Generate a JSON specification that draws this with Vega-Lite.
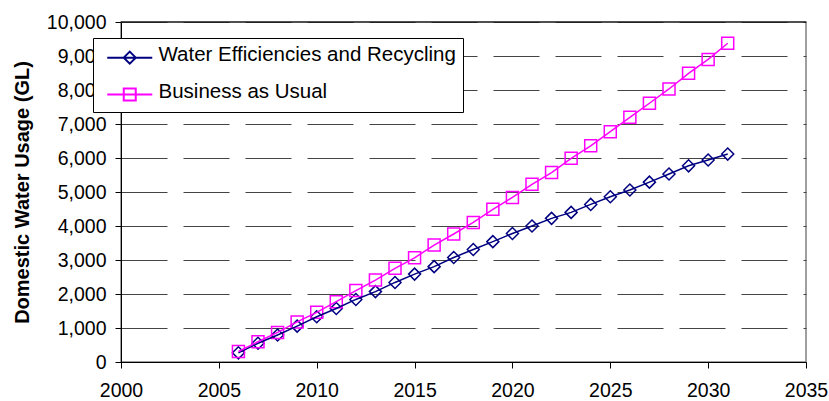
{
  "$schema": "https://vega.github.io/schema/vega-lite/v6.json",
  "width": 685,
  "height": 340,
  "autosize": {"type": "none"},
  "padding": {"left": 121, "top": 22, "right": 23, "bottom": 39},
  "background": "white",
  "config": {
    "view": {"stroke": "#808080", "strokeWidth": 1.5},
    "font": "Liberation Sans"
  },
  "data": {
    "values": [
      {"year": 2006, "series": "Water Efficiencies and Recycling", "usage": 270},
      {"year": 2007, "series": "Water Efficiencies and Recycling", "usage": 550},
      {"year": 2008, "series": "Water Efficiencies and Recycling", "usage": 795},
      {"year": 2009, "series": "Water Efficiencies and Recycling", "usage": 1055},
      {"year": 2010, "series": "Water Efficiencies and Recycling", "usage": 1330},
      {"year": 2011, "series": "Water Efficiencies and Recycling", "usage": 1575},
      {"year": 2012, "series": "Water Efficiencies and Recycling", "usage": 1840},
      {"year": 2013, "series": "Water Efficiencies and Recycling", "usage": 2070},
      {"year": 2014, "series": "Water Efficiencies and Recycling", "usage": 2340},
      {"year": 2015, "series": "Water Efficiencies and Recycling", "usage": 2585},
      {"year": 2016, "series": "Water Efficiencies and Recycling", "usage": 2805},
      {"year": 2017, "series": "Water Efficiencies and Recycling", "usage": 3075},
      {"year": 2018, "series": "Water Efficiencies and Recycling", "usage": 3310},
      {"year": 2019, "series": "Water Efficiencies and Recycling", "usage": 3540},
      {"year": 2020, "series": "Water Efficiencies and Recycling", "usage": 3780},
      {"year": 2021, "series": "Water Efficiencies and Recycling", "usage": 4000},
      {"year": 2022, "series": "Water Efficiencies and Recycling", "usage": 4225},
      {"year": 2023, "series": "Water Efficiencies and Recycling", "usage": 4400},
      {"year": 2024, "series": "Water Efficiencies and Recycling", "usage": 4635},
      {"year": 2025, "series": "Water Efficiencies and Recycling", "usage": 4860},
      {"year": 2026, "series": "Water Efficiencies and Recycling", "usage": 5060},
      {"year": 2027, "series": "Water Efficiencies and Recycling", "usage": 5290},
      {"year": 2028, "series": "Water Efficiencies and Recycling", "usage": 5530},
      {"year": 2029, "series": "Water Efficiencies and Recycling", "usage": 5770},
      {"year": 2030, "series": "Water Efficiencies and Recycling", "usage": 5940},
      {"year": 2031, "series": "Water Efficiencies and Recycling", "usage": 6115},
      {"year": 2006, "series": "Business as Usual", "usage": 310},
      {"year": 2007, "series": "Business as Usual", "usage": 595},
      {"year": 2008, "series": "Business as Usual", "usage": 870},
      {"year": 2009, "series": "Business as Usual", "usage": 1180},
      {"year": 2010, "series": "Business as Usual", "usage": 1460},
      {"year": 2011, "series": "Business as Usual", "usage": 1775},
      {"year": 2012, "series": "Business as Usual", "usage": 2100},
      {"year": 2013, "series": "Business as Usual", "usage": 2410},
      {"year": 2014, "series": "Business as Usual", "usage": 2755},
      {"year": 2015, "series": "Business as Usual", "usage": 3065},
      {"year": 2016, "series": "Business as Usual", "usage": 3440},
      {"year": 2017, "series": "Business as Usual", "usage": 3765},
      {"year": 2018, "series": "Business as Usual", "usage": 4105},
      {"year": 2019, "series": "Business as Usual", "usage": 4490},
      {"year": 2020, "series": "Business as Usual", "usage": 4840},
      {"year": 2021, "series": "Business as Usual", "usage": 5225},
      {"year": 2022, "series": "Business as Usual", "usage": 5570},
      {"year": 2023, "series": "Business as Usual", "usage": 5990},
      {"year": 2024, "series": "Business as Usual", "usage": 6360},
      {"year": 2025, "series": "Business as Usual", "usage": 6775},
      {"year": 2026, "series": "Business as Usual", "usage": 7195},
      {"year": 2027, "series": "Business as Usual", "usage": 7610},
      {"year": 2028, "series": "Business as Usual", "usage": 8030},
      {"year": 2029, "series": "Business as Usual", "usage": 8490},
      {"year": 2030, "series": "Business as Usual", "usage": 8900},
      {"year": 2031, "series": "Business as Usual", "usage": 9375}
    ]
  },
  "layer": [
    {
      "transform": [{"filter": "datum.series === 'Water Efficiencies and Recycling'"}],
      "mark": {"type": "point", "shape": "diamond", "filled": false, "size": 144, "strokeWidth": 1.5, "opacity": 1},
      "encoding": {
        "x": {
          "field": "year",
          "type": "quantitative",
          "scale": {"domain": [2000, 2035], "nice": false, "zero": false},
          "axis": {
            "title": null,
            "values": [2000, 2005, 2010, 2015, 2020, 2025, 2030, 2035],
            "tickCount": 20,
            "format": "d",
            "grid": false,
            "labelFontSize": 19.5,
            "labelColor": "black",
            "labelFont": "Liberation Sans",
            "tickSize": 6,
            "tickColor": "black",
            "domainColor": "black",
            "labelPadding": 13,
            "labelFlush": false,
            "labelOverlap": false
          }
        },
        "y": {
          "field": "usage",
          "type": "quantitative",
          "scale": {"domain": [0, 10000], "nice": false},
          "axis": {
            "title": "Domestic Water Usage (GL)",
            "titleFontSize": 20,
            "titleFontWeight": "bold",
            "titleFont": "Liberation Sans",
            "titleColor": "black",
            "titlePadding": 14,
            "values": [0, 1000, 2000, 3000, 4000, 5000, 6000, 7000, 8000, 9000, 10000],
            "tickCount": 20,
            "format": ",d",
            "labelFontSize": 19.5,
            "labelColor": "black",
            "labelFont": "Liberation Sans",
            "tickSize": 6,
            "tickColor": "black",
            "domainColor": "black",
            "labelPadding": 9,
            "labelOverlap": false,
            "grid": true,
            "gridColor": "#444444",
            "gridDash": [46, 16],
            "gridWidth": 1
          }
        },
        "color": {
          "field": "series",
          "type": "nominal",
          "scale": {
            "domain": ["Water Efficiencies and Recycling", "Business as Usual"],
            "range": ["#000080", "#FF00FF"]
          },
          "legend": {
            "title": null,
            "orient": "none",
            "legendX": -28,
            "legendY": 16,
            "fillColor": "white",
            "strokeColor": "black",
            "padding": 7,
            "rowPadding": 13.8,
            "labelFontSize": 20.5,
            "labelFont": "Liberation Sans",
            "labelColor": "black",
            "labelLimit": 500,
            "labelOffset": 38,
            "symbolSize": 144,
            "symbolStrokeWidth": 2,
            "symbolFillColor": "transparent"
          }
        }
      }
    },
    {
      "transform": [{"filter": "datum.series === 'Business as Usual'"}],
      "mark": {"type": "point", "shape": "square", "filled": false, "size": 144, "strokeWidth": 1.5, "opacity": 1},
      "encoding": {
        "x": {"field": "year", "type": "quantitative"},
        "y": {"field": "usage", "type": "quantitative"},
        "color": {"field": "series", "type": "nominal"}
      }
    },
    {
      "mark": {"type": "line", "strokeWidth": 1.5},
      "encoding": {
        "x": {"field": "year", "type": "quantitative"},
        "y": {"field": "usage", "type": "quantitative"},
        "color": {"field": "series", "type": "nominal"}
      }
    },
    {
      "transform": [{"filter": "datum.usage < 0"}],
      "mark": {"type": "point", "filled": false, "size": 144, "strokeWidth": 2},
      "encoding": {
        "x": {"field": "year", "type": "quantitative"},
        "y": {"field": "usage", "type": "quantitative"},
        "color": {"field": "series", "type": "nominal"},
        "shape": {
          "field": "series",
          "type": "nominal",
          "scale": {
            "domain": ["Water Efficiencies and Recycling", "Business as Usual"],
            "range": [
              "M-0.5,0.4H7M2.25,0.4L3.25,-0.6L4.25,0.4L3.25,1.4Z",
              "M-0.5,0.4H7M2.25,-0.6H4.25V1.4H2.25Z"
            ]
          },
          "legend": {
            "title": null,
            "orient": "none",
            "legendX": -28,
            "legendY": 16,
            "fillColor": "white",
            "strokeColor": "black",
            "padding": 7,
            "rowPadding": 13.8,
            "labelFontSize": 20.5,
            "labelFont": "Liberation Sans",
            "labelColor": "black",
            "labelLimit": 500,
            "labelOffset": 38,
            "symbolSize": 144,
            "symbolStrokeWidth": 2,
            "symbolFillColor": "transparent"
          }
        }
      }
    },
    {
      "data": {"values": [{"usage": 10000}]},
      "mark": {"type": "rule", "color": "black", "strokeWidth": 1},
      "encoding": {"y": {"field": "usage", "type": "quantitative"}}
    }
  ]
}
